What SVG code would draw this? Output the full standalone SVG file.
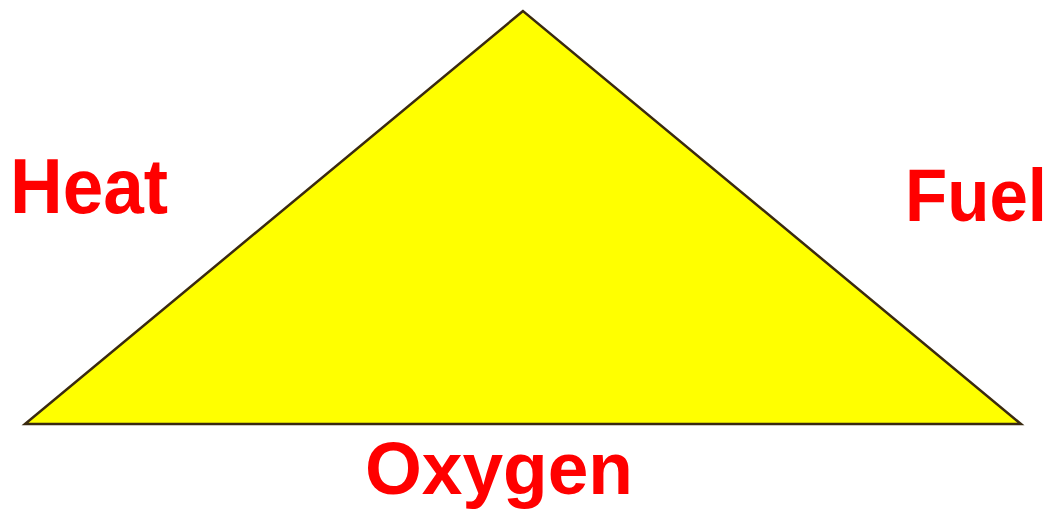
<svg xmlns="http://www.w3.org/2000/svg" width="1057" height="509" viewBox="0 0 1057 509">
<style>
.lbl{font-family:"Liberation Sans",Arial,sans-serif;font-weight:bold;font-size:75px;fill:#FF0000}
</style>
<rect width="1057" height="509" fill="#FFFFFF"/>
<g id="triangle">
<polygon points="523,11 25,424 1021,424" fill="#FFFF00" stroke="#3A2A10" stroke-width="2.5" stroke-linejoin="miter"/>
</g>
<g id="heat"><text class="lbl" x="10" y="213" transform="translate(0,213) scale(1,1.03) translate(0,-213)" textLength="158" lengthAdjust="spacingAndGlyphs">Heat</text></g>
<g id="fuel"><text class="lbl" x="905" y="221" style="font-size:70px" transform="translate(0,221) scale(1,1.07) translate(0,-221)" textLength="142" lengthAdjust="spacingAndGlyphs">Fuel</text></g>
<g id="oxygen"><text class="lbl" x="365" y="494" textLength="268" lengthAdjust="spacingAndGlyphs">Oxygen</text></g>
</svg>
